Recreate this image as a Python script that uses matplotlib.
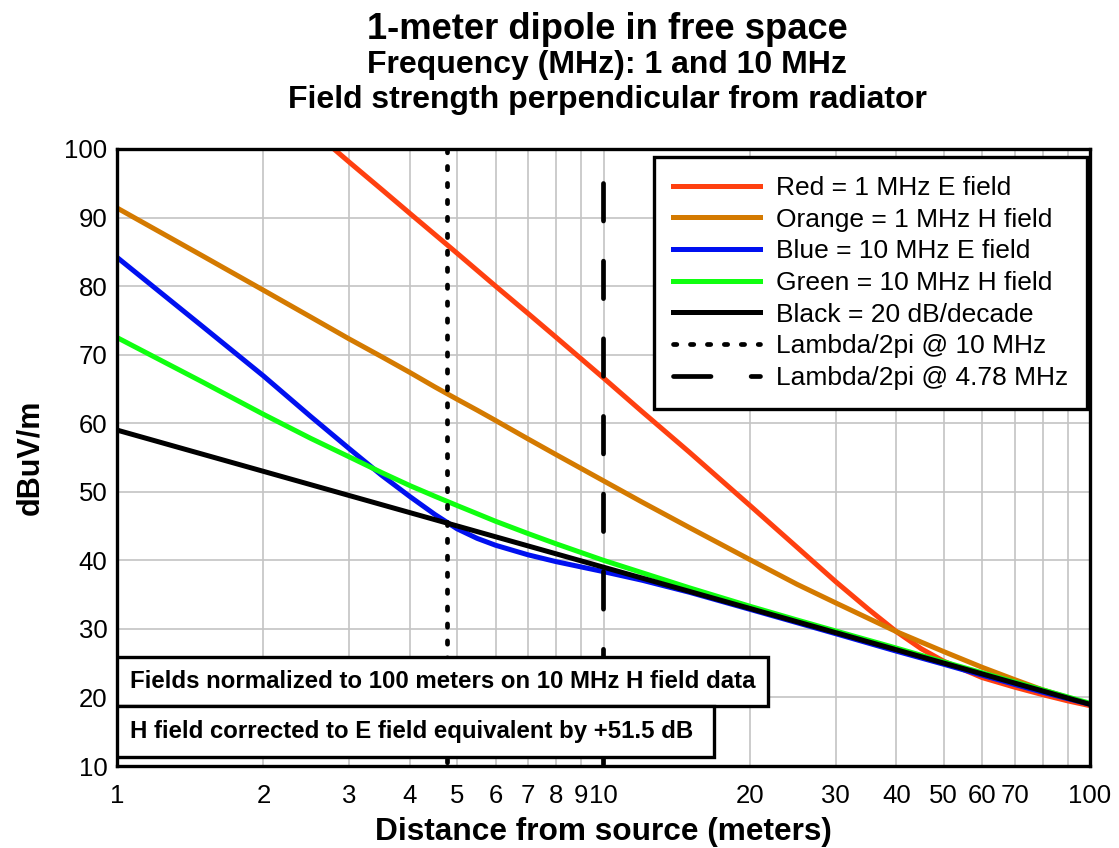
import matplotlib
matplotlib.use('Agg')
import matplotlib.pyplot as plt
from matplotlib.patches import Rectangle
from matplotlib.ticker import NullLocator

plt.rcParams['font.family'] = ['Liberation Sans', 'DejaVu Sans']
plt.rcParams['lines.scale_dashes'] = False

# distance from source (m)
dist = [1, 1.5, 2, 2.5, 3, 3.5, 4, 4.5, 5, 5.5, 6, 7, 8, 10, 12, 15, 20, 25, 30, 40, 50, 60, 70, 80, 100]
# 1 MHz H field (orange)
h_1mhz = [91.4, 84.4, 79.4, 75.5, 72.3, 69.7, 67.4, 65.3, 63.5, 61.9, 60.4, 57.7, 55.4, 51.6, 48.5,
          44.8, 40.1, 36.5, 33.8, 29.6, 26.7, 24.4, 22.6, 21.1, 19.0]
# 10 MHz E field (blue)
e_10mhz = [84.2, 74.1, 66.9, 61.0, 56.3, 52.4, 49.3, 46.7, 44.6, 43.2, 42.2, 40.8, 39.8, 38.35, 37.1,
           35.35, 32.85, 30.9, 29.3, 26.75, 24.85, 23.25, 21.9, 20.75, 19.0]
# 10 MHz H field (green)
h_10mhz = [72.5, 66.0, 61.3, 57.8, 55.1, 52.8, 50.9, 49.35, 48.0, 46.8, 45.7, 43.9, 42.4, 40.0, 38.2,
           36.0, 33.3, 31.3, 29.7, 27.2, 25.2, 23.6, 22.25, 21.1, 19.15]

# 1 MHz E field (red) - enters the plot at ~2.8 m
dist_red = [2.75, 3, 3.5, 4, 5, 6, 7, 8, 10, 12, 15, 20, 25, 30, 35, 40, 45, 50, 60, 70, 80, 90, 100]
e_1mhz = [100.4, 98.1, 94.1, 90.6, 84.8, 80.0, 76.0, 72.5, 66.6, 61.7, 55.8, 48.0, 41.9, 36.9, 32.9,
          29.6, 27.1, 25.3, 22.9, 21.5, 20.4, 19.5, 18.8]

# 20 dB/decade reference (black)
dist_ref = [1, 10, 100]
ref_20db = [59.0, 39.0, 19.0]

# lambda/2pi markers
lam_10mhz = 4.77
lam_478mhz = 9.99

xticks = [1, 2, 3, 4, 5, 6, 7, 8, 9, 10, 20, 30, 40, 50, 60, 70, 80, 90, 100]
xlabels = ['1', '2', '3', '4', '5', '6', '7', '8', '9', '10', '20', '30', '40', '50', '60', '70', '', '', '100']
yticks = [10, 20, 30, 40, 50, 60, 70, 80, 90, 100]

fig = plt.figure(figsize=(11.19, 8.48), dpi=100)
ax = fig.add_axes([117 / 1119, 1 - 766 / 848, 973 / 1119, 617 / 848])

ax.set_xscale('log')
ax.set_xlim(1, 100)
ax.set_ylim(10, 100)
ax.set_xticks(xticks)
ax.set_xticklabels(xlabels)
ax.xaxis.set_minor_locator(NullLocator())
ax.set_yticks(yticks)
ax.tick_params(axis='both', length=0, labelsize=18.5)
ax.tick_params(axis='x', pad=13)
ax.tick_params(axis='y', pad=7)
ax.grid(True, color='#c4c4c4', lw=1.2)
ax.set_axisbelow(True)
for s in ax.spines.values():
    s.set_linewidth(2.4)

lw = 3.6
ax.plot(dist_red, e_1mhz, color='#ff4010', lw=lw, label='Red = 1 MHz E field')
ax.plot(dist, h_1mhz, color='#d47a00', lw=lw, label='Orange = 1 MHz H field')
ax.plot(dist, e_10mhz, color='#0010f0', lw=lw, label='Blue = 10 MHz E field')
ax.plot(dist, h_10mhz, color='#10ff10', lw=lw, label='Green = 10 MHz H field')
ax.plot(dist_ref, ref_20db, color='black', lw=lw, label='Black = 20 dB/decade')
ax.plot([lam_10mhz, lam_10mhz], [100, 10], color='black', lw=3.4, dashes=(2.4, 9.8),
        dash_capstyle='round', label='Lambda/2pi @ 10 MHz')
ax.plot([lam_478mhz, lam_478mhz], [95, 10], color='black', lw=3.4, dashes=(27.0, 28.9),
        dash_capstyle='round', label='Lambda/2pi @ 4.78 MHz')

leg = ax.legend(loc='upper right', bbox_to_anchor=(0.997, 0.987), fontsize=19, handlelength=3.3,
                handletextpad=0.6, borderpad=0.72, labelspacing=0.29, fancybox=False,
                framealpha=1, edgecolor='black', borderaxespad=0)
leg.get_frame().set_linewidth(2.4)

# note boxes at the bottom
ax.add_patch(Rectangle((0, 0.0972), 0.669, 0.0794, transform=ax.transAxes, fc='white',
                       ec='black', lw=2.4, zorder=5))
ax.text(13 / 973, 0.0972 + 0.0397, 'Fields normalized to 100 meters on 10 MHz H field data',
        transform=ax.transAxes, va='center', ha='left', fontsize=17.3, fontweight='bold', zorder=6)
ax.add_patch(Rectangle((0, 0.0146), 0.6136, 0.0826, transform=ax.transAxes, fc='white',
                       ec='black', lw=2.4, zorder=5))
ax.text(13 / 973, 0.0146 + 0.0413, 'H field corrected to E field equivalent by +51.5 dB',
        transform=ax.transAxes, va='center', ha='left', fontsize=17.3, fontweight='bold', zorder=6)

# titles and axis labels
fig.text(0.5425, 1 - 39.3 / 848, '1-meter dipole in free space', ha='center', va='baseline',
         fontsize=26.2, fontweight='bold')
fig.text(0.5425, 1 - 73.3 / 848, 'Frequency (MHz): 1 and 10 MHz', ha='center', va='baseline',
         fontsize=23, fontweight='bold')
fig.text(0.5425, 1 - 108.3 / 848, 'Field strength perpendicular from radiator', ha='center',
         va='baseline', fontsize=23, fontweight='bold')
fig.text(603.5 / 1119, 1 - 840 / 848, 'Distance from source (meters)', ha='center', va='baseline',
         fontsize=22.8, fontweight='bold')
fig.text(30 / 1119, 1 - 457 / 848, 'dBuV/m', ha='center', va='center', rotation=90,
         fontsize=22, fontweight='bold')

fig.savefig('out.png', dpi=100)
